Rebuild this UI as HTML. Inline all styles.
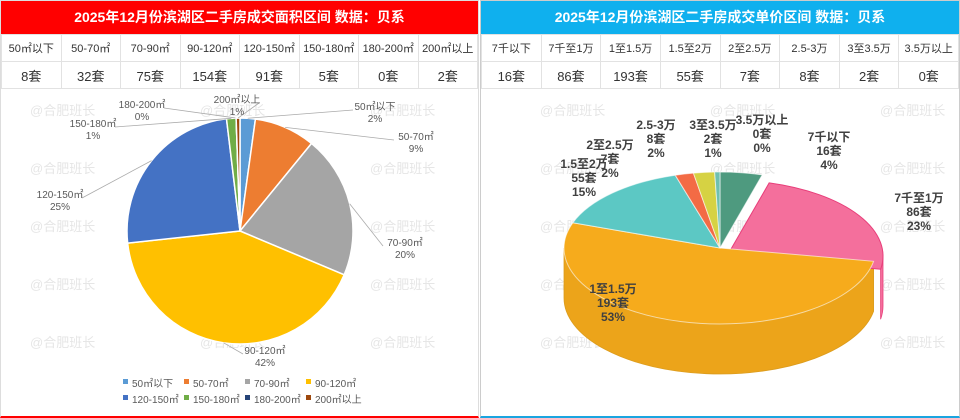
<!DOCTYPE html>
<html><head><meta charset="utf-8">
<style>
body{margin:0;width:960px;height:418px;overflow:hidden;background:#fff;font-family:"Liberation Sans","Noto Sans CJK SC",sans-serif;position:relative}
.panel{position:absolute;top:0;height:418px;box-sizing:border-box}
.hdr{height:33px;line-height:33px;color:#fff;text-align:center;font-size:14px;font-weight:bold}
table{border-collapse:collapse;width:100%;table-layout:fixed}
td{border:1px solid #e2e2e2;text-align:center;color:#333;padding:0}
tr.a td{height:26px;font-size:11px}
tr.b td{height:26px;font-size:13px}
svg{position:absolute;left:0;top:0}
</style></head><body>
<div class="panel" style="left:0;width:479px;border:1px solid #ddd;border-bottom:2px solid #f00">
 <div class="hdr" style="background:#f00">2025年12月份滨湖区二手房成交面积区间 数据：贝系</div>
 <table><tr class="a"><td>50㎡以下</td><td>50-70㎡</td><td>70-90㎡</td><td>90-120㎡</td><td>120-150㎡</td><td>150-180㎡</td><td>180-200㎡</td><td>200㎡以上</td></tr>
 <tr class="b"><td>8套</td><td>32套</td><td>75套</td><td>154套</td><td>91套</td><td>5套</td><td>0套</td><td>2套</td></tr></table>
</div>
<div class="panel" style="left:480px;width:480px;border:1px solid #ccc;border-bottom:2px solid #1aa5e0">
 <div class="hdr" style="background:#0fb0ee">2025年12月份滨湖区二手房成交单价区间 数据：贝系</div>
 <table><tr class="a"><td>7千以下</td><td>7千至1万</td><td>1至1.5万</td><td>1.5至2万</td><td>2至2.5万</td><td>2.5-3万</td><td>3至3.5万</td><td>3.5万以上</td></tr>
 <tr class="b"><td>16套</td><td>86套</td><td>193套</td><td>55套</td><td>7套</td><td>8套</td><td>2套</td><td>0套</td></tr></table>
</div>
<svg id="s" width="960" height="418"></svg>
<script>
const areaCats=["50㎡以下","50-70㎡","70-90㎡","90-120㎡","120-150㎡","150-180㎡","180-200㎡","200㎡以上"];
const areaVals=[8,32,75,154,91,5,0,2];
const priceCats=["7千以下","7千至1万","1至1.5万","1.5至2万","2至2.5万","2.5-3万","3至3.5万","3.5万以上"];
const priceVals=[16,86,193,55,7,8,2,0];
const areaColors=["#5b9bd5","#ed7d31","#a5a5a5","#ffc000","#4472c4","#70ad47","#264478","#9e480e"];
const priceColors=["#4e9a7f","#f46f9c","#f6ab1c","#5cc8c4","#f36b45","#d6d243","#6fc0b0","#aaaaaa"];
const areaLabelPos=[[375,106],[416,136],[405,242],[265,350],[60,194],[93,123],[142,104],[237,99]];
const priceLabelPos=[[829,137],[919,198],[613,289],[584,164],[610,145],[656,125],[713,125],[762,120]];
const S=document.getElementById('s');const NS="http://www.w3.org/2000/svg";
function mk(t,a,p){const e=document.createElementNS(NS,t);for(const k in a)e.setAttribute(k,a[k]);(p||S).appendChild(e);return e;}
function txt(x,y,s,a){const e=mk('text',Object.assign({x:x,y:y},a));e.textContent=s;return e;}
// watermarks
for(let r=0;r<5;r++)for(let c=0;c<6;c++){const w=txt(30+c*170,115+r*58,"@合肥班长",{fill:"#e6e6e6","font-size":13});}
// left pie
const cx=240,cy=231,R=113;const tot=areaVals.reduce((a,b)=>a+b,0);
let acc=0;
function pt(a,r){return [cx+r*Math.sin(a),cy-r*Math.cos(a)];}
areaVals.forEach((v,i)=>{const a0=acc/tot*2*Math.PI;acc+=v;const a1=acc/tot*2*Math.PI;
 const p0=pt(a0,R),p1=pt(a1,R);const lg=(a1-a0)>Math.PI?1:0;
 const s=mk('path',{d:v>0?`M${cx},${cy}L${p0}A${R},${R} 0 ${lg} 1 ${p1}Z`:`M${cx},${cy}L${p0}`,fill:areaColors[i],stroke:"#fff","stroke-width":1.5});
 
 const lp=areaLabelPos[i];const m=(a0+a1)/2;const e=pt(m,R);
 mk('line',{x1:e[0],y1:e[1],x2:lp[0]+(lp[0]>cx?-22:22),y2:lp[1]+4,stroke:"#aaa","stroke-width":0.8});
 const pct=Math.round(v/tot*100)+"%";
 const l=txt(lp[0],lp[1]+4,areaCats[i],{"text-anchor":"middle","font-size":10,fill:"#595959"});
 
 txt(lp[0],lp[1]+16,pct,{"text-anchor":"middle","font-size":10,fill:"#595959"});
});
areaCats.forEach((c,i)=>{const x=123+(i%4)*61,y=i<4?383:399;
 const r=mk('rect',{x:x,y:y-4,width:5,height:5,fill:areaColors[i]});
 txt(x+9,y+4,c,{"font-size":10,fill:"#595959"});});
// right 3D pie
const X=720,Y=248,RX=156,RY=76,D=50;const tot2=priceVals.reduce((a,b)=>a+b,0);
function ep(a,ox,oy,dy){return [X+ox+RX*Math.sin(a),Y+oy-RY*Math.cos(a)+(dy||0)];}
function shade(c){return c;}
let ang=[];acc=0;priceVals.forEach(v=>{const a0=acc/tot2*2*Math.PI;acc+=v;ang.push([a0,acc/tot2*2*Math.PI]);});
function off(i){return i===1?[7,8]:[0,0];}
// sides (front half)
priceVals.forEach((v,i)=>{let [a0,a1]=ang[i];const s0=Math.max(a0,Math.PI/2),s1=Math.min(a1,3*Math.PI/2);if(s1<=s0||v===0)return;
 const [ox,oy]=off(i);const p0=ep(s0,ox,oy),p1=ep(s1,ox,oy),q1=ep(s1,ox,oy,D),q0=ep(s0,ox,oy,D);
 const side=mk('path',{d:`M${p0}A${RX},${RY} 0 0 1 ${p1}L${q1}A${RX},${RY} 0 0 0 ${q0}Z`,fill:priceColors[i],stroke:i===1?"#e83e7a":"#e0a020","stroke-width":0.8});
 
 if(i!==1)mk('path',{d:`M${p0}A${RX},${RY} 0 0 1 ${p1}L${q1}A${RX},${RY} 0 0 0 ${q0}Z`,fill:"#000",opacity:0.04});
});
priceVals.forEach((v,i)=>{const [a0,a1]=ang[i];if(v===0)return;const [ox,oy]=off(i);
 const p0=ep(a0,ox,oy),p1=ep(a1,ox,oy);const lg=(a1-a0)>Math.PI?1:0;
 const t=mk('path',{d:`M${X+ox},${Y+oy}L${p0}A${RX},${RY} 0 ${lg} 1 ${p1}Z`,fill:priceColors[i],stroke:i===1?"#e83e7a":"rgba(255,255,255,0.6)","stroke-width":1});
 
});
priceVals.forEach((v,i)=>{const lp=priceLabelPos[i];const pct=Math.round(v/tot2*100)+"%";
 [priceCats[i],v+"套",pct].forEach((s,k)=>{const l=txt(lp[0],lp[1]+4+k*14,s,{"text-anchor":"middle","font-size":12,"font-weight":"bold",fill:"#404040"});
 });});
</script>
</body></html>
